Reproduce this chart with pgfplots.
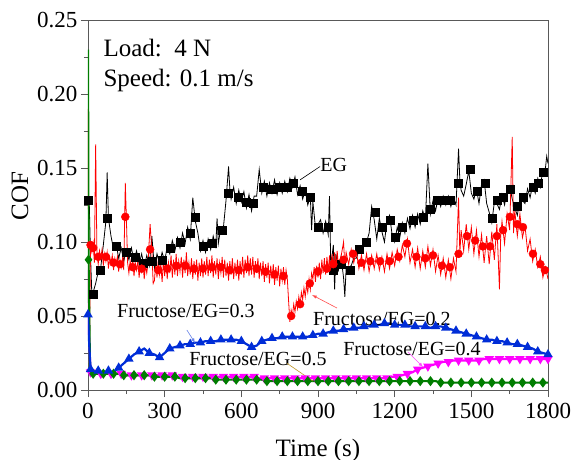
\documentclass[border=0pt]{standalone}
\usepackage{fontspec}
\setmainfont{Liberation Serif}
\usepackage{pgfplots}
\usepackage{pgfplotstable}
\pgfplotsset{compat=1.18}
\definecolor{cblue}{RGB}{0,45,215}
\definecolor{cgreen}{RGB}{0,125,0}
\definecolor{cmag}{RGB}{255,0,255}
\definecolor{colive}{RGB}{190,150,40}

\pgfplotstableread{
t v
0 0.128
5 0.126
10 0.090
15 0.065
20 0.066
30 0.072
40 0.080
50 0.083
60 0.098
70 0.114
75 0.147
80 0.116
90 0.104
100 0.095
110 0.099
120 0.089
130 0.096
140 0.087
150 0.095
160 0.088
170 0.096
180 0.087
190 0.094
200 0.085
210 0.092
220 0.083
230 0.091
240 0.084
250 0.104
260 0.082
270 0.092
280 0.085
290 0.093
300 0.087
310 0.097
320 0.092
330 0.101
340 0.094
350 0.103
360 0.096
370 0.106
380 0.099
390 0.110
400 0.102
410 0.130
420 0.114
430 0.106
440 0.094
450 0.101
460 0.093
470 0.102
480 0.095
490 0.104
500 0.097
505 0.116
510 0.099
520 0.110
530 0.110
540 0.128
550 0.151
555 0.136
560 0.129
570 0.137
580 0.126
590 0.135
600 0.127
610 0.134
620 0.123
630 0.132
640 0.121
650 0.131
660 0.131
670 0.149
680 0.133
690 0.141
700 0.131
710 0.140
720 0.133
730 0.142
740 0.132
750 0.140
760 0.133
770 0.141
780 0.134
790 0.143
800 0.137
810 0.144
820 0.132
830 0.138
840 0.129
850 0.135
860 0.125
870 0.131
875 0.108
880 0.127
890 0.110
900 0.112
910 0.115
920 0.106
930 0.114
940 0.105
945 0.131
950 0.083
960 0.098
965 0.068
970 0.092
980 0.081
990 0.090
1000 0.076
1005 0.063
1010 0.082
1020 0.083
1030 0.084
1040 0.089
1050 0.089
1060 0.094
1070 0.094
1080 0.099
1090 0.100
1100 0.106
1110 0.124
1120 0.115
1130 0.102
1140 0.116
1150 0.107
1160 0.100
1170 0.114
1180 0.118
1190 0.105
1200 0.100
1210 0.110
1220 0.103
1230 0.113
1240 0.106
1250 0.116
1260 0.109
1270 0.118
1280 0.110
1290 0.119
1300 0.112
1310 0.121
1320 0.115
1330 0.153
1340 0.119
1350 0.128
1360 0.121
1370 0.130
1380 0.124
1390 0.131
1400 0.125
1410 0.131
1420 0.124
1430 0.130
1440 0.125
1450 0.163
1455 0.142
1460 0.135
1470 0.131
1480 0.139
1490 0.148
1500 0.133
1510 0.129
1520 0.136
1530 0.126
1540 0.139
1550 0.142
1560 0.126
1570 0.120
1580 0.113
1590 0.127
1600 0.126
1610 0.122
1620 0.132
1630 0.125
1640 0.135
1650 0.138
1660 0.129
1670 0.123
1680 0.118
1690 0.129
1700 0.128
1710 0.126
1720 0.136
1730 0.130
1740 0.139
1750 0.133
1760 0.143
1770 0.137
1780 0.149
1790 0.150
1795 0.158
1800 0.153
}\tEG

\pgfplotstableread{
t v
0 0.128
20 0.065
47 0.081
75 0.116
110 0.097
150 0.093
184 0.090
215 0.086
250 0.087
290 0.088
320 0.096
360 0.100
400 0.106
420 0.117
450 0.097
485 0.099
525 0.108
550 0.133
587 0.130
620 0.127
647 0.126
685 0.137
720 0.136
750 0.137
780 0.137
803 0.140
837 0.134
868 0.130
900 0.110
940 0.110
960 0.081
990 0.085
1025 0.081
1060 0.095
1090 0.100
1123 0.120
1150 0.110
1182 0.115
1201 0.103
1228 0.110
1272 0.115
1311 0.117
1340 0.122
1365 0.128
1395 0.128
1417 0.128
1448 0.140
1495 0.149
1521 0.134
1553 0.140
1581 0.116
1600 0.128
1625 0.130
1651 0.136
1678 0.124
1702 0.130
1741 0.137
1760 0.140
1780 0.147
}\mEG

\pgfplotstableread{
t v
0 0.190
3 0.060
6 0.036
10 0.097
15 0.093
20 0.099
25 0.086
30 0.166
35 0.092
40 0.085
45 0.094
50 0.089
55 0.095
60 0.084
65 0.092
70 0.087
75 0.093
80 0.082
85 0.090
90 0.086
95 0.091
100 0.081
105 0.089
110 0.085
115 0.090
120 0.080
125 0.088
130 0.083
135 0.089
140 0.081
146 0.140
150 0.117
155 0.086
160 0.079
165 0.087
170 0.082
175 0.088
180 0.077
185 0.086
190 0.081
195 0.087
200 0.076
205 0.085
210 0.080
215 0.086
220 0.075
225 0.084
230 0.079
235 0.086
243 0.112
250 0.094
255 0.072
260 0.074
265 0.086
270 0.076
275 0.088
280 0.078
285 0.085
290 0.073
295 0.087
300 0.077
305 0.089
310 0.075
315 0.086
320 0.079
325 0.091
330 0.076
335 0.088
340 0.078
345 0.092
350 0.077
355 0.087
360 0.080
365 0.090
370 0.076
375 0.088
380 0.079
385 0.093
390 0.077
395 0.086
400 0.078
405 0.089
410 0.075
415 0.087
420 0.078
425 0.088
430 0.074
435 0.086
440 0.077
445 0.089
450 0.076
455 0.087
460 0.078
465 0.090
470 0.077
475 0.088
480 0.079
485 0.091
490 0.076
495 0.087
500 0.078
505 0.089
510 0.075
515 0.086
520 0.079
525 0.090
530 0.076
535 0.088
540 0.077
545 0.086
550 0.074
555 0.087
560 0.078
565 0.089
570 0.075
575 0.086
580 0.077
585 0.088
590 0.074
595 0.087
600 0.078
605 0.090
610 0.076
615 0.088
620 0.079
625 0.091
630 0.077
635 0.089
640 0.078
645 0.090
650 0.076
655 0.087
660 0.079
665 0.089
670 0.075
675 0.086
680 0.077
685 0.087
690 0.073
695 0.085
700 0.076
705 0.086
710 0.072
715 0.084
720 0.075
725 0.085
730 0.071
735 0.083
740 0.074
745 0.084
750 0.070
755 0.082
760 0.074
765 0.083
770 0.071
775 0.081
780 0.075
785 0.060
790 0.046
795 0.054
800 0.050
805 0.058
810 0.053
815 0.060
820 0.055
825 0.063
830 0.058
835 0.066
840 0.061
845 0.069
850 0.063
855 0.071
860 0.066
865 0.075
870 0.068
875 0.079
880 0.075
885 0.083
890 0.073
895 0.084
900 0.076
905 0.086
910 0.075
915 0.088
920 0.079
925 0.089
930 0.078
935 0.090
940 0.080
945 0.091
950 0.079
955 0.092
960 0.081
965 0.093
970 0.080
975 0.094
980 0.084
990 0.090
1000 0.100
1005 0.084
1010 0.093
1020 0.085
1030 0.095
1040 0.086
1050 0.094
1060 0.082
1070 0.091
1080 0.081
1090 0.092
1100 0.080
1110 0.091
1120 0.082
1130 0.092
1140 0.081
1150 0.090
1160 0.080
1170 0.092
1180 0.082
1190 0.093
1200 0.084
1210 0.095
1220 0.087
1230 0.098
1240 0.090
1250 0.102
1260 0.086
1270 0.095
1280 0.083
1290 0.096
1300 0.082
1310 0.094
1320 0.083
1330 0.097
1340 0.084
1350 0.095
1360 0.080
1370 0.091
1380 0.078
1390 0.089
1400 0.076
1410 0.088
1420 0.075
1430 0.089
1440 0.080
1450 0.130
1455 0.092
1460 0.108
1470 0.094
1480 0.112
1490 0.095
1500 0.110
1510 0.092
1520 0.108
1530 0.090
1540 0.105
1550 0.086
1560 0.104
1570 0.085
1580 0.107
1590 0.088
1600 0.112
1610 0.068
1615 0.104
1620 0.114
1630 0.099
1640 0.119
1650 0.108
1660 0.171
1665 0.106
1670 0.121
1680 0.104
1690 0.119
1700 0.103
1710 0.111
1720 0.094
1730 0.102
1740 0.087
1750 0.095
1760 0.083
1770 0.090
1780 0.076
1790 0.083
1800 0.075
}\tTwo

\pgfplotstableread{
t v
10 0.098
20 0.096
40 0.090
70 0.090
100 0.086
125 0.085
146 0.117
175 0.083
210 0.082
243 0.095
275 0.081
310 0.082
345 0.084
380 0.084
415 0.082
450 0.082
485 0.083
520 0.083
555 0.081
590 0.081
625 0.083
660 0.082
695 0.080
730 0.078
765 0.077
795 0.050
830 0.058
868 0.072
900 0.080
935 0.082
960 0.085
1000 0.088
1037 0.092
1070 0.086
1105 0.087
1143 0.087
1180 0.087
1215 0.090
1248 0.099
1285 0.090
1320 0.089
1350 0.091
1385 0.084
1416 0.083
1450 0.092
1483 0.104
1515 0.101
1545 0.097
1573 0.097
1600 0.104
1624 0.108
1651 0.117
1680 0.112
1702 0.110
1741 0.092
1770 0.085
1788 0.081
}\mTwo

\pgfplotstableread{
t v
0 0.051
5 0.030
10 0.014
20 0.012
40 0.013
60 0.012
80 0.013
100 0.012
120 0.015
140 0.018
160 0.021
180 0.024
200 0.026
220 0.028
240 0.025
260 0.024
280 0.022
300 0.025
320 0.028
340 0.029
360 0.030
380 0.031
400 0.031
420 0.032
440 0.032
460 0.033
480 0.033
500 0.033
520 0.034
540 0.034
560 0.034
580 0.034
600 0.033
620 0.031
640 0.029
660 0.030
680 0.033
700 0.034
720 0.035
740 0.035
760 0.036
780 0.036
800 0.036
820 0.036
840 0.036
860 0.036
880 0.037
900 0.038
920 0.038
940 0.039
960 0.040
980 0.040
1000 0.041
1020 0.041
1040 0.042
1060 0.042
1080 0.043
1100 0.043
1120 0.044
1140 0.044
1160 0.045
1180 0.045
1200 0.044
1220 0.044
1240 0.044
1260 0.043
1280 0.043
1300 0.043
1320 0.043
1340 0.042
1360 0.043
1380 0.043
1400 0.042
1420 0.041
1440 0.040
1460 0.039
1480 0.038
1500 0.037
1520 0.036
1540 0.035
1560 0.034
1580 0.034
1600 0.033
1620 0.033
1640 0.032
1660 0.031
1680 0.031
1700 0.030
1720 0.029
1740 0.028
1760 0.026
1780 0.025
1800 0.024
}\tThree

\pgfplotstableread{
t v
0 0.081
5 0.030
10 0.012
30 0.011
50 0.011
70 0.011
90 0.011
110 0.011
130 0.011
150 0.010
170 0.010
190 0.010
210 0.010
230 0.010
250 0.010
270 0.010
290 0.010
310 0.010
330 0.010
350 0.009
370 0.009
390 0.009
410 0.009
430 0.009
450 0.009
470 0.009
490 0.009
510 0.009
530 0.009
550 0.009
570 0.009
590 0.009
610 0.009
630 0.009
650 0.009
670 0.008
690 0.008
710 0.008
730 0.008
750 0.008
770 0.008
790 0.008
810 0.008
830 0.008
850 0.008
870 0.008
890 0.008
910 0.008
930 0.008
950 0.008
970 0.008
990 0.008
1010 0.008
1030 0.008
1050 0.008
1070 0.008
1090 0.008
1110 0.008
1130 0.008
1150 0.008
1170 0.008
1190 0.009
1210 0.009
1230 0.010
1250 0.011
1270 0.012
1290 0.014
1310 0.015
1330 0.016
1350 0.017
1370 0.018
1390 0.019
1410 0.019
1430 0.020
1450 0.020
1470 0.020
1490 0.020
1510 0.020
1530 0.020
1550 0.021
1570 0.021
1590 0.021
1610 0.021
1630 0.021
1650 0.021
1670 0.021
1690 0.021
1710 0.021
1730 0.021
1750 0.021
1770 0.021
1790 0.021
1800 0.021
}\tFour

\pgfplotstableread{
t v
0 0.230
2 0.088
8 0.012
20 0.011
40 0.011
60 0.011
80 0.011
100 0.011
120 0.011
140 0.010
160 0.010
180 0.010
200 0.010
220 0.010
240 0.010
260 0.009
280 0.009
300 0.009
320 0.009
340 0.009
360 0.008
380 0.008
400 0.008
420 0.008
440 0.008
460 0.008
480 0.008
500 0.007
520 0.007
540 0.007
560 0.007
580 0.007
600 0.007
620 0.007
640 0.007
660 0.007
680 0.007
700 0.006
720 0.006
740 0.006
760 0.006
780 0.006
800 0.006
820 0.006
840 0.006
860 0.006
880 0.006
900 0.006
920 0.006
940 0.006
960 0.006
980 0.006
1000 0.006
1020 0.006
1040 0.006
1060 0.006
1080 0.006
1100 0.006
1120 0.006
1140 0.006
1160 0.006
1180 0.006
1200 0.006
1220 0.006
1240 0.006
1260 0.006
1280 0.006
1300 0.006
1320 0.006
1340 0.006
1360 0.006
1380 0.005
1400 0.005
1420 0.005
1440 0.005
1460 0.005
1480 0.005
1500 0.005
1520 0.005
1540 0.005
1560 0.005
1580 0.005
1600 0.005
1620 0.005
1640 0.005
1660 0.005
1680 0.005
1700 0.005
1720 0.005
1740 0.005
1760 0.005
1780 0.005
1800 0.005
}\tFive

\begin{document}
\begin{tikzpicture}
\useasboundingbox (-88pt,-70pt) rectangle (487pt,390pt);
\begin{axis}[
  scale only axis,
  width=460pt, height=370pt,
  xmin=0, xmax=1800, ymin=0, ymax=0.25,
  xtick={0,300,...,1800},
  ytick={0,0.05,...,0.25},
  minor x tick num=1, minor y tick num=1,
  tick align=outside,
  xtick pos=bottom, ytick pos=left,
  major tick length=7pt, minor tick length=4pt,
  axis line style={black!65, line width=0.8pt},
  every tick/.style={black!65, line width=0.8pt},
  tick label style={font=\fontsize{23}{26}\selectfont},
  xticklabel style={yshift=-3pt},
  /pgf/number format/assume math mode=true,
  /pgf/number format/1000 sep={},
  yticklabel style={/pgf/number format/fixed, /pgf/number format/fixed zerofill, /pgf/number format/precision=2},
  scaled y ticks=false,
  xlabel={Time (s)},
  ylabel={COF},
  label style={font=\fontsize{25}{28}\selectfont},
  xlabel style={at={(axis description cs:0.5,0)}, anchor=center, yshift=-60pt},
  ylabel style={at={(axis description cs:-0.148,0.524)}, anchor=center},
  clip=true,
]
\addplot[black, line width=0.8pt, no marks] table[x=t,y=v] {\tEG};
\addplot[black, only marks, mark=square*, mark size=4pt] table[x=t,y=v] {\mEG};
\addplot[red, line width=0.8pt, no marks] table[x=t,y=v] {\tTwo};
\addplot[red, only marks, mark=*, mark size=4pt] table[x=t,y=v] {\mTwo};
\addplot[cmag, line width=2.2pt, mark=triangle*, mark size=3.3pt, mark phase=3, mark repeat=2, mark options={rotate=180}] table[x=t,y=v] {\tFour};
\addplot[cgreen, line width=2.2pt, mark=diamond*, mark size=3.3pt, mark phase=2, mark repeat=2] table[x=t,y=v] {\tFive};
\addplot[cblue, line width=2.2pt, mark=triangle*, mark size=3.3pt, mark repeat=2] table[x=t,y=v] {\tThree};

\node[anchor=west, font=\fontsize{25}{28}\selectfont] at (axis cs:47,0.231) {Load:\ \ 4 N};
\node[anchor=west, font=\fontsize{25}{28}\selectfont] at (axis cs:47,0.209) {Speed: 0.1 m/s};

\draw[black, line width=0.6pt] (axis cs:830,0.142) -- (axis cs:908,0.151);
\node[anchor=west, inner sep=1pt, font=\fontsize{20}{24}\selectfont] at (axis cs:905,0.152) {EG};

\node[font=\fontsize{20}{24}\selectfont, inner sep=0pt] at (axis cs:383,0.0534) {Fructose/EG=0.3};
\draw[cblue!60, line width=0.6pt, -latex] (axis cs:387,0.0405) -- (axis cs:419,0.0318);

\node[font=\fontsize{20}{24}\selectfont, inner sep=0pt] at (axis cs:1150,0.048) {Fructose/EG=0.2};
\draw[red!70, line width=0.6pt, -latex] (axis cs:974,0.0554) -- (axis cs:877,0.0642);

\node[font=\fontsize{20}{24}\selectfont, inner sep=0pt] at (axis cs:665,0.021) {Fructose/EG=0.5};
\draw[colive, line width=0.6pt] (axis cs:779,0.018) -- (axis cs:880,0.006);

\node[font=\fontsize{20}{24}\selectfont, inner sep=0pt] at (axis cs:1268,0.0275) {Fructose/EG=0.4};
\draw[cmag!70, line width=0.6pt, -latex] (axis cs:1252,0.0257) -- (axis cs:1311,0.0155);
\end{axis}
\end{tikzpicture}
\end{document}
